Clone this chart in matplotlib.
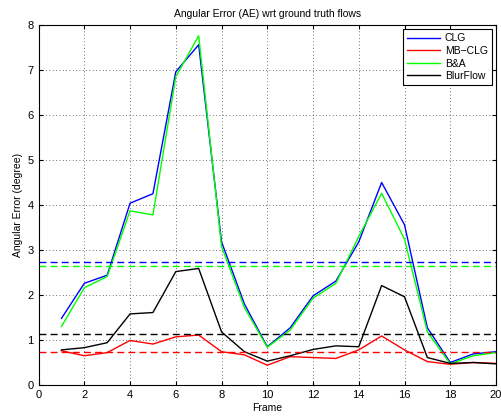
import matplotlib
matplotlib.use("Agg")
import matplotlib.pyplot as plt

plt.rcParams['font.family'] = ['Liberation Sans', 'DejaVu Sans']

frames = list(range(1, 21))
clg = [1.48, 2.26, 2.44, 4.04, 4.25, 6.96, 7.56, 3.18, 1.80, 0.85,
       1.27, 1.98, 2.31, 3.18, 4.50, 3.56, 1.27, 0.50, 0.69, 0.74]
mbclg = [0.76, 0.65, 0.72, 0.99, 0.91, 1.07, 1.11, 0.74, 0.67, 0.44,
         0.63, 0.61, 0.59, 0.78, 1.09, 0.78, 0.52, 0.46, 0.50, 0.48]
ba = [1.30, 2.16, 2.41, 3.87, 3.78, 6.85, 7.76, 3.08, 1.72, 0.84,
      1.22, 1.93, 2.26, 3.30, 4.26, 3.24, 1.18, 0.47, 0.65, 0.72]
blurflow = [0.78, 0.83, 0.94, 1.58, 1.61, 2.52, 2.59, 1.18, 0.74, 0.53,
            0.65, 0.79, 0.87, 0.85, 2.21, 1.96, 0.61, 0.48, 0.50, 0.47]

names = ['CLG', 'MB\u2212CLG', 'B&A', 'BlurFlow']
colors = ['#0000ff', '#ff0000', '#00ff00', '#000000']
means = [2.74, 0.73, 2.65, 1.14]

fig = plt.figure(figsize=(5.01, 4.16), dpi=100)
ax = fig.add_axes([0.077, 0.0745, 0.913, 0.8655])

for series, name, c in zip([clg, mbclg, ba, blurflow], names, colors):
    ax.plot(frames, series, color=c, lw=1.0, label=name)
for m, c in zip(means, colors):
    ax.axhline(m, color=c, lw=1.0, ls=(0, (5, 3)))

ax.set_xlim(0, 20)
ax.set_ylim(0, 8)
ax.set_xticks(range(0, 21, 2))
ax.set_yticks(range(0, 9))
ax.grid(True, ls=(0, (1, 3)), color='#444444', lw=0.6)
ax.tick_params(direction='in', labelsize=8, top=True, right=True, length=3)
for s in ax.spines.values():
    s.set_linewidth(0.8)

ax.set_title('Angular Error (AE) wrt ground truth flows', fontsize=7.5)
ax.set_xlabel('Frame', fontsize=7.5, labelpad=2)
ax.set_ylabel('Angular Error (degree)', fontsize=7.5, labelpad=3)

leg = ax.legend(loc='upper right', fontsize=7.5, fancybox=False, framealpha=1,
                edgecolor='black', handlelength=3.2, borderaxespad=0.4,
                labelspacing=0.25, handletextpad=0.4)
leg.get_frame().set_linewidth(0.8)

fig.savefig('out.png', dpi=100)
